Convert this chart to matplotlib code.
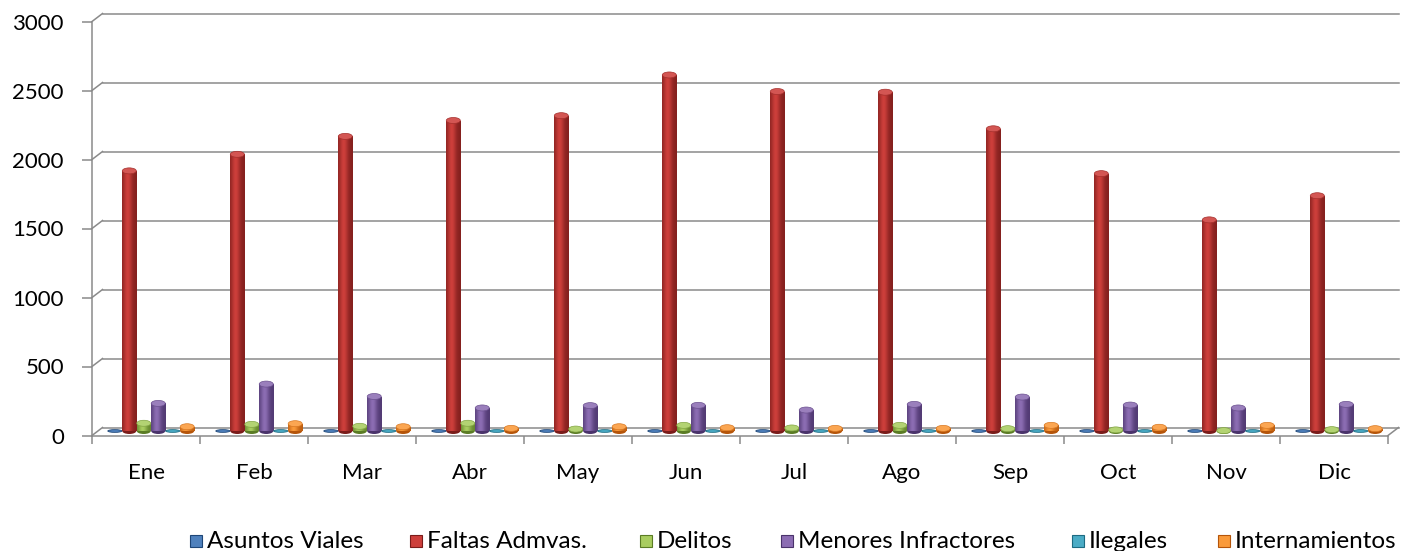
"""
Monthly incidents by type, 3D-looking cylinder columns
"""
import numpy as np
import matplotlib.pyplot as plt
from matplotlib.patches import Ellipse, Rectangle
from matplotlib.lines import Line2D
from matplotlib.transforms import ScaledTranslation, IdentityTransform
from matplotlib.colors import to_rgb

plt.rcParams['font.family'] = ['Lato', 'DejaVu Sans']

meses = ['Ene', 'Feb', 'Mar', 'Abr', 'May', 'Jun',
         'Jul', 'Ago', 'Sep', 'Oct', 'Nov', 'Dic']
asuntos_viales = [0, 0, 0, 0, 0, 0, 0, 0, 0, 0, 0, 0]
faltas_admvas = [1885, 2005, 2135, 2250, 2285, 2580, 2460, 2455, 2190, 1865, 1530, 1705]
delitos = [56, 48, 34, 56, 14, 41, 22, 41, 17, 8, 3, 10]
menores_infractores = [200, 340, 250, 167, 184, 186, 152, 193, 246, 188, 167, 193]
ilegales = [0, 0, 0, 0, 0, 0, 0, 0, 0, 0, 0, 0]
internamientos = [31, 53, 31, 19, 31, 24, 19, 19, 41, 27, 41, 17]
y_ticks = [0, 500, 1000, 1500, 2000, 2500, 3000]

# (label, values, light colour, dark colour)
series = [
    ('Asuntos Viales', asuntos_viales, '#4F81BD', '#1E4677'),
    ('Faltas Admvas.', faltas_admvas, '#CD3F3B', '#7A1C1A'),
    ('Delitos', delitos, '#A9CD60', '#5B7C25'),
    ('Menores Infractores', menores_infractores, '#8C6DB3', '#4A336B'),
    ('Ilegales', ilegales, '#4BACC6', '#1D6B82'),
    ('Internamientos', internamientos, '#FA9A3A', '#B5550A'),
]
legend_x = [190, 410, 640, 781, 1072, 1218]

W, H = 1404, 551
GRID = '#8a8a8a'

fig = plt.figure(figsize=(W / 100, H / 100), dpi=100)
ax = fig.add_axes([92 / W, (H - 435.5) / H, (1388 - 92) / W, 414 / H])
ax.set_xlim(-0.5, len(meses) - 0.5)
ax.set_ylim(0, 3000)
ax.set_facecolor('none')

# bars sit in the middle of the depth, back wall a bit further
t_bar = ax.transData + ScaledTranslation(0.05, 0.045, fig.dpi_scale_trans)
t_back = ax.transData + ScaledTranslation(0.105, 0.08, fig.dpi_scale_trans)


def seg(p_front, p_back, **kw):
    a = ax.transData.transform(p_front)
    b = t_back.transform(p_back)
    fig.add_artist(Line2D([a[0], b[0]], [a[1], b[1]], transform=IdentityTransform(), **kw))


x0, x1 = ax.get_xlim()
for v in y_ticks:
    ax.plot([x0, x1], [v, v], transform=t_back, color=GRID, lw=1.1, zorder=1, clip_on=False)
    seg((x0, v), (x0, v), color=GRID, lw=1.1, zorder=1)
seg((x1, 0), (x1, 0), color=GRID, lw=1.1, zorder=1)

# cylinder shading profile across the bar width
t = np.linspace(0, 1, 48)
shade = 0.12 + 0.88 * np.exp(-((t - 0.38) / 0.3) ** 2)

step = 0.134
width = 0.13
cap_h = 6 / (414 / 3000)
idx = np.arange(len(meses))

for k, (label, vals, light, dark) in enumerate(series):
    lo, hi = np.array(to_rgb(dark)), np.array(to_rgb(light))
    img = (lo[None, :] + (hi - lo)[None, :] * shade[:, None])[None, :, :]
    cap_c = hi + (1 - hi) * 0.12
    rim = (hi + lo) / 2
    xs = idx + (k - 2.5) * step
    bars = ax.bar(xs, vals, width=width, color=dark, transform=t_bar, zorder=3, linewidth=0)
    for xc, v, rect in zip(xs, vals, bars):
        if v > 0:
            ax.add_patch(Ellipse((xc, 0), width, cap_h, facecolor=dark, edgecolor='none',
                                 transform=t_bar, zorder=2.9))
            im = ax.imshow(img, extent=[xc - width / 2, xc + width / 2, 0, v], aspect='auto',
                           transform=t_bar, zorder=3.1, interpolation='bilinear')
            im.set_clip_path(rect)
            ax.add_patch(Ellipse((xc, v), width, cap_h, facecolor=cap_c, edgecolor=rim,
                                 lw=0.5, transform=t_bar, zorder=4))
        else:
            # empty month: just a flat disk on the floor
            ax.add_patch(Ellipse((xc, 0), width, cap_h * 0.45, facecolor=light, edgecolor=dark,
                                 lw=0.6, transform=t_bar, zorder=4))

ax.set_xlim(x0, x1)
ax.set_ylim(0, 3000)

for s in ['top', 'right']:
    ax.spines[s].set_visible(False)
for s in ['left', 'bottom']:
    ax.spines[s].set_color(GRID)
    ax.spines[s].set_linewidth(1.1)

ax.set_yticks(y_ticks)
ax.tick_params(axis='y', length=7.2, width=1.1, color=GRID, labelsize=16, pad=13)
ax.set_xticks(idx)
ax.set_xticklabels(meses)
ax.set_xticks(np.arange(-0.5, len(meses)), minor=True)
ax.tick_params(axis='x', which='major', length=0, labelsize=16, pad=20)
ax.tick_params(axis='x', which='minor', length=6, width=1.1, color=GRID)

# legend, laid out like the spreadsheet one
for (label, vals, light, dark), lx in zip(series, legend_x):
    fig.add_artist(Rectangle((lx, H - 547), 12, 12, transform=IdentityTransform(),
                             facecolor=light, edgecolor=dark, lw=0.8))
    fig.text((lx + 17) / W, (H - 541) / H, label, fontsize=17.5, va='center', ha='left')

fig.savefig('out.png', dpi=100)
